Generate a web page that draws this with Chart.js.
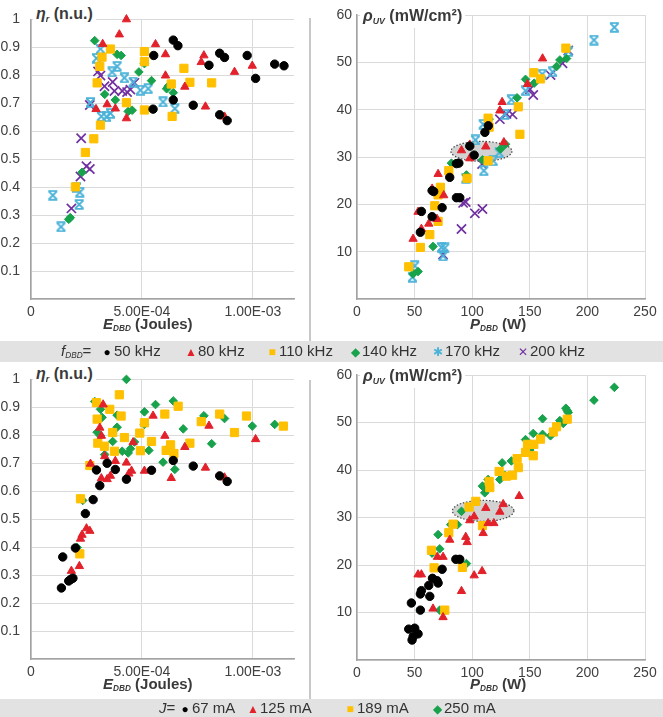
<!DOCTYPE html>
<html>
<head>
<meta charset="utf-8">
<script src="https://cdn.jsdelivr.net/npm/chart.js@4.4.0/dist/chart.umd.min.js"></script>
<style>
  body { margin: 0; background: #fff; font-family: "Liberation Sans", Arial, sans-serif; }
  #wrap { position: relative; width: 663px; height: 717px; overflow: hidden; background: #fff; }
  canvas { position: absolute; }
  .ttl { position: absolute; font-weight: bold; color: #3a3a3a; background: #fff; white-space: nowrap; line-height: 20px; padding: 0 3px; }
  .xt { position: absolute; font-weight: bold; color: #3a3a3a; white-space: nowrap; font-size: 15px; line-height: 18px; }
  .sub { font-size: 0.55em; position: relative; top: 0.3em; font-style: italic; }
  .sep { position: absolute; left: 309px; width: 2px; background: #c8c8c8; }
  .bar { position: absolute; left: 0; width: 663px; background: #e2e2e2; }
  .it { position: absolute; font-size: 15px; color: #333; white-space: nowrap; line-height: 20px; }
  .mk { display: inline-block; width: 12px; text-align: center; font-size: 12px; margin-right: 1px; }
</style>
</head>
<body>
<div id="wrap">
  <canvas id="tl" width="309" height="335" style="left:0;top:0"></canvas>
  <canvas id="tr" width="351" height="335" style="left:312px;top:0"></canvas>
  <canvas id="bl" width="309" height="335" style="left:0;top:360px"></canvas>
  <canvas id="br" width="351" height="335" style="left:312px;top:360px"></canvas>

  <div class="sep" style="top:18px;height:323px"></div>
  <div class="sep" style="top:380px;height:320px"></div>

  <div class="ttl" style="left:33px;top:4px;font-size:16px;height:26px"><i>η</i><span class="sub">r</span> (n.u.)</div>
  <div class="ttl" style="left:360px;top:6px;font-size:16px"><i>ρ</i><span class="sub">UV</span> (mW/cm²)</div>
  <div class="ttl" style="left:33px;top:364px;font-size:16px;height:26px"><i>η</i><span class="sub">r</span> (n.u.)</div>
  <div class="ttl" style="left:360px;top:366px;font-size:16px"><i>ρ</i><span class="sub">UV</span> (mW/cm²)</div>

  <div class="xt" style="left:103px;top:315px"><i>E</i><span class="sub">DBD</span> (Joules)</div>
  <div class="xt" style="left:470px;top:315px"><i>P</i><span class="sub">DBD</span> (W)</div>
  <div class="xt" style="left:103px;top:675px"><i>E</i><span class="sub">DBD</span> (Joules)</div>
  <div class="xt" style="left:470px;top:675px"><i>P</i><span class="sub">DBD</span> (W)</div>

  <div class="bar" style="top:341px;height:21px"></div>
  <div class="bar" style="top:699px;height:18px"></div>
  <div id="legTop"></div>
  <div id="legBot"></div>
</div>

<script>
// ---- data ----
// top row, by frequency: [E_DBD (J), eta_r]
const eta50kHz = [[5.50e-4,0.679],[5.53e-4,0.871],[6.41e-4,0.926],[6.62e-4,0.906],[6.41e-4,0.712],[7.31e-4,0.693],[8.02e-4,0.836],[8.50e-4,0.879],[8.72e-4,0.864],[9.74e-4,0.871],[10.12e-4,0.789],[10.98e-4,0.840],[11.40e-4,0.834],[8.50e-4,0.659],[8.84e-4,0.638]];
const eta80kHz = [[4.30e-4,1.0],[3.98e-4,0.946],[3.23e-4,0.912],[5.61e-4,0.911],[6.06e-4,0.875],[7.79e-4,0.871],[7.67e-4,0.847],[9.97e-4,0.834],[9.17e-4,0.812],[6.06e-4,0.799],[6.93e-4,0.759],[7.86e-4,0.688],[8.72e-4,0.652],[3.43e-4,0.696],[2.93e-4,0.679],[3.80e-4,0.681],[4.30e-4,0.646]];
const eta110kHz = [[3.58e-4,0.894],[3.20e-4,0.865],[3.10e-4,0.832],[2.98e-4,0.773],[3.13e-4,0.622],[2.83e-4,0.573],[2.45e-4,0.524],[2.00e-4,0.401],[5.11e-4,0.885],[5.11e-4,0.849],[4.30e-4,0.702],[5.11e-4,0.676],[6.32e-4,0.769],[6.89e-4,0.825],[7.16e-4,0.775],[8.14e-4,0.773],[6.36e-4,0.653]];
const eta140kHz = [[2.87e-4,0.924],[3.88e-4,0.875],[4.06e-4,0.871],[4.86e-4,0.812],[5.11e-4,0.842],[5.43e-4,0.781],[3.32e-4,0.732],[3.80e-4,0.712],[4.38e-4,0.671],[4.56e-4,0.675],[6.11e-4,0.752],[6.18e-4,0.761],[6.41e-4,0.738],[2.30e-4,0.453],[1.77e-4,0.291],[1.70e-4,0.285]];
const eta170kHz = [[3.13e-4,0.894],[2.95e-4,0.861],[3.88e-4,0.832],[3.65e-4,0.812],[4.21e-4,0.791],[4.60e-4,0.776],[4.93e-4,0.747],[5.28e-4,0.752],[5.95e-4,0.705],[6.48e-4,0.681],[2.68e-4,0.703],[3.17e-4,0.653],[3.40e-4,0.652],[3.58e-4,0.664],[0.98e-4,0.371],[2.05e-4,0.399],[2.20e-4,0.382],[2.17e-4,0.338],[1.35e-4,0.258]];
const eta200kHz = [[3.02e-4,0.814],[3.13e-4,0.799],[3.31e-4,0.761],[3.68e-4,0.776],[3.76e-4,0.744],[4.11e-4,0.744],[4.33e-4,0.740],[4.48e-4,0.749],[4.66e-4,0.773],[2.65e-4,0.694],[2.26e-4,0.575],[2.50e-4,0.475],[2.65e-4,0.465],[2.23e-4,0.438],[1.82e-4,0.324]];

// top row, by frequency: [P_DBD (W), rho_UV (mW/cm2)]
const rho50kHz = [[111,35.2],[114,36.6],[97.9,32.3],[101.7,30.4],[86.3,28.6],[88.4,28.7],[80.5,25.7],[65.2,22.9],[66.6,22.7],[86.3,21.4],[89.2,21.4],[73.9,19.3],[55.9,18.5],[65.2,17.4],[55,14.1]];
const rho80kHz = [[161.1,50.8],[148,45.4],[126,41.6],[124,39.8],[127.5,33.1],[97.9,32.6],[111.8,32.2],[90.7,31.4],[97.9,29.7],[70.4,26.4],[65.2,23.3],[75.3,21.9],[53,18.4],[69.5,16.9],[62.3,15.9],[55.9,14.8],[48.7,12.7]];
const rho110kHz = [[181.3,53.0],[153.5,47.8],[159.3,46.5],[140,40.6],[113.8,38.2],[114.7,36.3],[141.4,34.8],[113.8,29.2],[79.7,27.1],[95.6,25.5],[72.4,23.6],[70.4,22.0],[67.5,19.7],[70.4,16.4],[63.2,13.6],[55,10.9],[44.9,6.8]];
const rho140kHz = [[181.9,50.8],[176.1,50.5],[173.2,49.1],[146.3,46.4],[153.8,45.6],[139,42.5],[114.7,38.0],[128.9,32.7],[124.6,31.7],[108.9,29.4],[82,28.7],[95,26.2],[66,11.1],[53,5.8],[48.7,5.3]];
const rho170kHz = [[223.4,57.4],[205.7,54.7],[183.4,52.3],[160.8,47.5],[169.8,48.0],[146.3,44.0],[134,42.1],[128.3,39.0],[109.5,36.9],[102.8,33.6],[123.4,30.9],[118.2,29.2],[110.1,27.1],[94.5,25.5],[73.3,10.9],[76.2,10.8],[74.7,9.1],[50.1,7.0],[48.1,4.6]];
const rho200kHz = [[183.4,52.5],[178.4,49.8],[168,47.3],[150.1,44.3],[153,43.1],[129.8,39.1],[135,39.0],[124,38.0],[108.6,28.5],[92.1,20.3],[94.4,20.5],[102.3,18.1],[108.9,19.0],[90.7,14.8],[74.7,9.4]];

// bottom row, by current: [E_DBD (J), eta_r]
const eta67mA = [[1.37e-4,0.254],[1.43e-4,0.365],[1.70e-4,0.279],[1.80e-4,0.285],[1.89e-4,0.289],[2.00e-4,0.397],[2.45e-4,0.520],[2.80e-4,0.570],[2.95e-4,0.676],[3.10e-4,0.620],[3.43e-4,0.700],[3.80e-4,0.678],[4.30e-4,0.643],[5.43e-4,0.675],[6.41e-4,0.710],[7.31e-4,0.690],[8.50e-4,0.655],[8.84e-4,0.635]];
const eta125mA = [[3.25e-4,0.910],[3.10e-4,0.827],[3.17e-4,0.798],[3.32e-4,0.725],[3.80e-4,0.708],[4.30e-4,0.702],[2.68e-4,0.698],[3.17e-4,0.646],[3.43e-4,0.643],[3.58e-4,0.655],[4.41e-4,0.663],[4.53e-4,0.673],[4.60e-4,0.775],[5.11e-4,0.673],[5.50e-4,0.870],[6.03e-4,0.798],[6.93e-4,0.758],[6.32e-4,0.647],[7.86e-4,0.684],[8.02e-4,0.834],[8.72e-4,0.649],[10.12e-4,0.786],[2.50e-4,0.467],[2.65e-4,0.458],[2.23e-4,0.430],[2.30e-4,0.444],[1.82e-4,0.315],[2.18e-4,0.332]];
const eta189mA = [[3.98e-4,0.945],[2.95e-4,0.917],[2.98e-4,0.858],[3.55e-4,0.893],[4.06e-4,0.869],[3.68e-4,0.810],[4.21e-4,0.792],[3.01e-4,0.772],[3.31e-4,0.761],[3.76e-4,0.743],[4.90e-4,0.808],[4.93e-4,0.745],[5.11e-4,0.845],[5.43e-4,0.778],[6.03e-4,0.876],[6.09e-4,0.746],[6.29e-4,0.766],[6.44e-4,0.735],[6.63e-4,0.904],[7.16e-4,0.772],[7.67e-4,0.849],[8.50e-4,0.876],[9.17e-4,0.810],[9.71e-4,0.869],[11.37e-4,0.833],[2.65e-4,0.692],[2.23e-4,0.573],[2.20e-4,0.376]];
const eta250mA = [[4.30e-4,1.0],[2.87e-4,0.921],[3.13e-4,0.893],[3.20e-4,0.864],[2.98e-4,0.811],[3.13e-4,0.799],[3.88e-4,0.872],[3.88e-4,0.829],[3.68e-4,0.778],[4.11e-4,0.743],[4.38e-4,0.737],[4.48e-4,0.752],[4.66e-4,0.776],[3.32e-4,0.731],[5.11e-4,0.884],[5.11e-4,0.839],[5.31e-4,0.746],[5.61e-4,0.910],[5.95e-4,0.704],[6.21e-4,0.757],[6.41e-4,0.923],[6.48e-4,0.678],[6.86e-4,0.823],[7.79e-4,0.870],[8.14e-4,0.770],[8.72e-4,0.860],[9.97e-4,0.833],[10.98e-4,0.839],[2.33e-4,0.567],[2.08e-4,0.399]];

// bottom row, by current: [P_DBD (W), rho_UV (mW/cm2)]
const rho67mA = [[85.8,21.2],[89.2,21.2],[73.9,19.1],[65.5,17.2],[69.5,16.7],[70.4,16.2],[62.3,15.7],[55.9,14.6],[55,13.9],[63.2,13.4],[47.2,12.0],[55,10.5],[44.9,6.5],[50.1,6.7],[53,5.5],[48.7,4.9],[47.8,4.2]];
const rho125mA = [[140.8,34.5],[111.8,32.0],[126.9,32.8],[124,31.2],[101.7,30.2],[97.9,29.4],[113.8,28.8],[118.8,28.8],[109.5,26.7],[80.5,25.3],[94.4,25.9],[95.6,24.8],[69.8,21.7],[74.7,21.7],[53,18.0],[55.9,18.0],[101.7,17.8],[108.6,18.7],[90.7,14.5],[66,10.8],[74.7,9.0]];
const rho189mA = [[182.5,50.7],[173.2,49.1],[170.4,48.0],[159.3,46.5],[153.5,45.4],[148,45.4],[146.3,43.7],[153,43.0],[139,42.4],[140,40.5],[123.4,39.7],[135,38.9],[129.8,38.7],[114.7,37.6],[115.3,36.3],[103.1,33.4],[97.3,32.2],[108.9,28.3],[83.4,28.6],[79.7,26.8],[64.6,23.1],[91.5,19.5],[66.9,19.4],[76.2,10.5]];
const rho250mA = [[223.4,57.4],[205.7,54.7],[181.3,53.0],[182.5,52.5],[183.4,52.1],[176.1,50.4],[179,49.8],[168,47.2],[161.1,50.8],[153,47.7],[161.1,47.5],[146.3,46.4],[150,44.2],[134,41.9],[126,41.5],[128.3,38.9],[124,38.0],[113.8,38.0],[108.9,36.6],[110.9,36.4],[110.9,35.2],[90.7,31.3],[81.4,28.5],[87.2,28.5],[70.4,26.4],[65.2,22.5],[71.8,23.4],[95,20.3],[71.8,10.5]];

// highlighted group (gray ellipse), in data units
const rhoHighlightTop = { cx: 108, cy: 31.2, rx: 26.5, ry: 2.1 };
const rhoHighlightBot = { cx: 109.5, cy: 31.4, rx: 26.7, ry: 2.2 };

const freqLabels = ['50 kHz', '80 kHz', '110 kHz', '140 kHz', '170 kHz', '200 kHz'];
const currentLabels = ['67 mA', '125 mA', '189 mA', '250 mA'];

const energyTicks = [0, 5e-4, 1e-3];
const energyTickLabels = ['0', '5.00E-04', '1.00E-03'];
const etaTicks = [0, 0.1, 0.2, 0.3, 0.4, 0.5, 0.6, 0.7, 0.8, 0.9, 1];
const etaTickLabels = ['', '0.1', '0.2', '0.3', '0.4', '0.5', '0.6', '0.7', '0.8', '0.9', '1'];
const powerTicks = [0, 50, 100, 150, 200, 250];
const powerTickLabels = ['0', '50', '100', '150', '200', '250'];
const rhoTicks = [0, 10, 20, 30, 40, 50, 60];
const rhoTickLabels = ['', '10', '20', '30', '40', '50', '60'];

// ---- marker styles ----
function starImage(color) {
  const c = document.createElement('canvas');
  c.width = 11; c.height = 11;
  const g = c.getContext('2d');
  g.strokeStyle = color;
  g.lineWidth = 1.8;
  g.beginPath();
  g.moveTo(1.5, 1.5); g.lineTo(9.5, 9.5);
  g.moveTo(9.5, 1.5); g.lineTo(1.5, 9.5);
  g.moveTo(1, 1.2); g.lineTo(10, 1.2);
  g.moveTo(1, 9.8); g.lineTo(10, 9.8);
  g.stroke();
  return c;
}

const BLACK = '#000000', RED = '#e2212b', YELLOW = '#ffc000', GREEN = '#17a24b', CYAN = '#4bb2d8', PURPLE = '#7030a0';

const styles = [
  { shape: 'circle', r: 4.2, color: BLACK, bw: 1 },
  { shape: 'triangle', r: 4.8, color: RED, bw: 1 },
  { shape: 'rect', r: 5.8, color: YELLOW, bw: 1 },
  { shape: 'rectRot', r: 4.3, color: GREEN, bw: 1 },
  { shape: starImage(CYAN), r: 5, color: CYAN, bw: 1 },
  { shape: 'crossRot', r: 6.5, color: PURPLE, bw: 1.7 }
];

function ds(points, style) {
  return {
    data: points.map(p => ({ x: p[0], y: p[1] })),
    pointStyle: style.shape,
    pointRadius: style.r,
    backgroundColor: style.color,
    borderColor: style.color,
    borderWidth: style.bw,
    clip: false
  };
}

const ellipsePlugin = {
  id: 'highlight',
  beforeDatasetsDraw(chart, args, opts) {
    if (!opts || opts.cx === undefined) return;
    const xs = chart.scales.x, ys = chart.scales.y, ctx = chart.ctx;
    const cx = xs.getPixelForValue(opts.cx), cy = ys.getPixelForValue(opts.cy);
    const rx = Math.abs(xs.getPixelForValue(opts.cx + opts.rx) - cx);
    const ry = Math.abs(ys.getPixelForValue(opts.cy + opts.ry) - cy);
    ctx.save();
    ctx.beginPath();
    ctx.ellipse(cx, cy, rx, ry, 0, 0, Math.PI * 2);
    ctx.fillStyle = '#d2d2d2';
    ctx.fill();
    ctx.setLineDash([1.5, 1.8]);
    ctx.lineWidth = 1.2;
    ctx.strokeStyle = '#444';
    ctx.stroke();
    ctx.restore();
  }
};

function axis(ticks, labels, min, max, pad, fit) {
  return {
    type: 'linear', min: min, max: max,
    grid: { color: '#dadada', lineWidth: 1, drawTicks: false },
    border: { color: '#a3a3a3', width: 1.5 },
    ticks: {
      padding: pad, color: '#404040', autoSkip: false, maxRotation: 0,
      font: { family: 'Liberation Sans', size: 14 },
      callback: (v, i) => labels[i]
    },
    afterBuildTicks: s => { s.ticks = ticks.map(v => ({ value: v })); },
    afterFit: fit
  };
}

function panel(id, datasets, xAx, yAx, box, hl) {
  const cv = document.getElementById(id);
  return new Chart(cv, {
    type: 'scatter',
    data: { datasets: datasets },
    options: {
      responsive: false, animation: false, events: [],
      layout: { padding: { top: box.top, right: box.right, left: 0, bottom: 0 } },
      plugins: { legend: { display: false }, tooltip: { enabled: false }, highlight: hl || {} },
      scales: {
        x: axis(xAx.ticks, xAx.labels, xAx.min, xAx.max, 5, s => { s.height = box.xh; }),
        y: axis(yAx.ticks, yAx.labels, yAx.min, yAx.max, box.ypad, s => { s.width = box.left; })
      }
    },
    plugins: [ellipsePlugin]
  });
}

const energyAxis = { ticks: energyTicks, labels: energyTickLabels, min: 0, max: 1.185e-3 };
const etaAxis = { ticks: etaTicks, labels: etaTickLabels, min: 0, max: 1 };
const powerAxis = { ticks: powerTicks, labels: powerTickLabels, min: 0, max: 250 };
const rhoAxis = { ticks: rhoTicks, labels: rhoTickLabels, min: 0, max: 60 };

const etaByFreq = [eta50kHz, eta80kHz, eta110kHz, eta140kHz, eta170kHz, eta200kHz];
const rhoByFreq = [rho50kHz, rho80kHz, rho110kHz, rho140kHz, rho170kHz, rho200kHz];
const etaByCurrent = [eta67mA, eta125mA, eta189mA, eta250mA];
const rhoByCurrent = [rho67mA, rho125mA, rho189mA, rho250mA];

panel('tl', etaByFreq.map((d, i) => ds(d, styles[i])), energyAxis, etaAxis,
  { left: 31, right: 15, top: 15, xh: 36, ypad: 11 });
panel('tr', rhoByFreq.map((d, i) => ds(d, styles[i])), powerAxis, rhoAxis,
  { left: 45, right: 18, top: 15, xh: 36, ypad: 5 }, rhoHighlightTop);
panel('bl', etaByCurrent.map((d, i) => ds(d, styles[i])), energyAxis, etaAxis,
  { left: 31, right: 15, top: 15, xh: 36, ypad: 11 });
panel('br', rhoByCurrent.map((d, i) => ds(d, styles[i])), powerAxis, rhoAxis,
  { left: 45, right: 18, top: 15, xh: 35, ypad: 5 }, rhoHighlightBot);

// ---- legend bars ----
const legendGlyphs = ['●', '▲', '■', '◆', '✱', '✕'];
const legendColors = [BLACK, RED, YELLOW, GREEN, CYAN, PURPLE];

function legendRow(el, top, lead, leadLeft, labels, lefts) {
  let html = '<div class="it" style="left:' + leadLeft + 'px;top:' + top + 'px">' + lead + '</div>';
  labels.forEach((lab, i) => {
    html += '<div class="it" style="left:' + lefts[i] + 'px;top:' + top + 'px">' +
      '<span class="mk" style="color:' + legendColors[i] + '">' + legendGlyphs[i] + '</span>' + lab + '</div>';
  });
  document.getElementById(el).innerHTML = html;
}

legendRow('legTop', 341, '<i>f</i><span class="sub">DBD</span>=', 61, freqLabels, [101, 185, 266, 349, 432, 517]);
legendRow('legBot', 698, '<i>J</i>=', 159, currentLabels, [179, 247, 344, 431]);
</script>
</body>
</html>
